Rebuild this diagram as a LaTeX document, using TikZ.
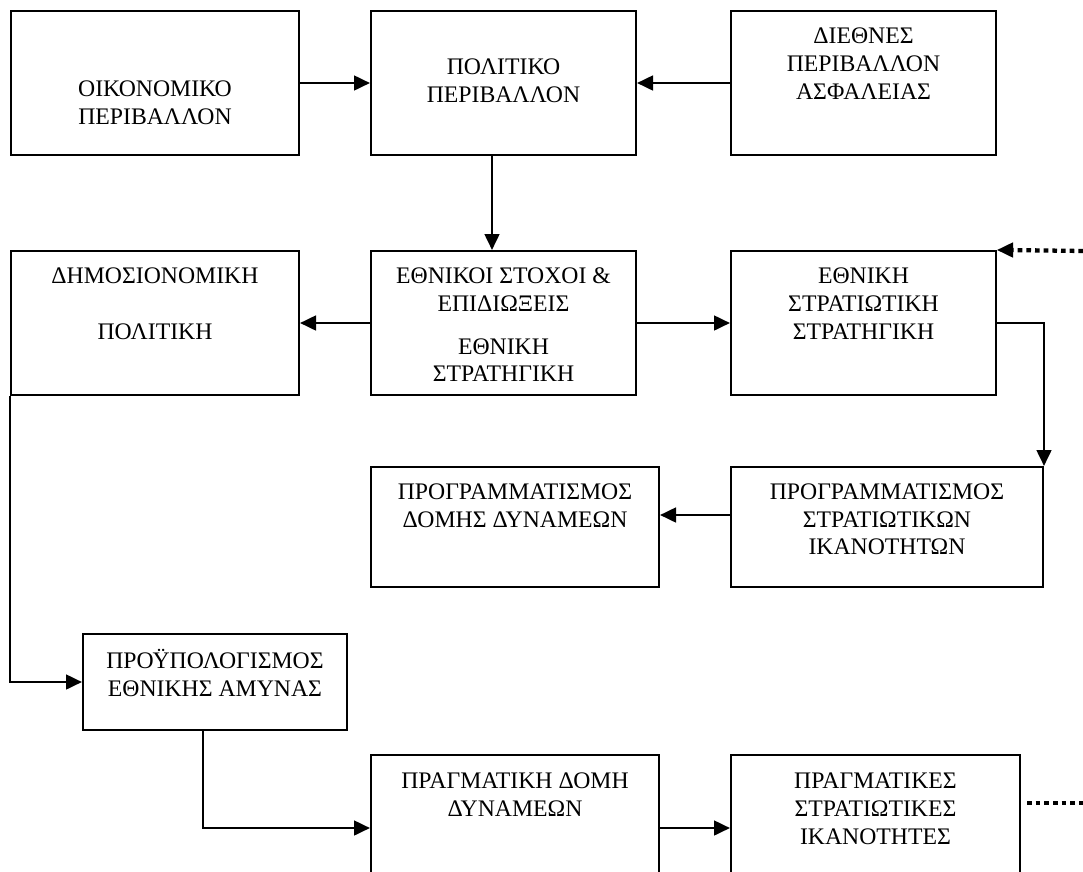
\documentclass[tikz,border=0pt]{standalone}
\usepackage{fontspec}
\setmainfont{Liberation Serif}
\usetikzlibrary{arrows.meta}
\usetikzlibrary{fit}
\newcommand{\firstline}{\rule{0pt}{16pt}}

\begin{document}
\begin{tikzpicture}[x=0.75pt,y=-0.75pt,
    arr/.style={line width=2pt,-{Triangle[length=12pt,width=11pt]}},
    dotline/.style={line width=3.2pt,dash pattern=on 3.5pt off 3pt}]
  \useasboundingbox (0,0) rectangle (1083,872);
  \clip (0,0) rectangle (1083,872);

  \begin{scope}[every node/.style={rectangle,draw,line width=1.5pt,inner sep=0pt}]
    \node (oik) [fit={(11,11) (299,155)}] {};
    \node (pol) [fit={(371,11) (636,155)}] {};
    \node (dieth) [fit={(731,11) (996,155)}] {};
    \node (dim) [fit={(11,251) (299,395)}] {};
    \node (ethn) [fit={(371,251) (636,395)}] {};
    \node (ess) [fit={(731,251) (996,395)}] {};
    \node (pdd) [fit={(371,467) (659,587)}] {};
    \node (psi) [fit={(731,467) (1043,587)}] {};
    \node (proy) [fit={(83,634) (347,730)}] {};
    \node (pdom) [fit={(371,755) (659,900)}] {};
    \node (pik) [fit={(731,755) (1020,900)}] {};
  \end{scope}

  \begin{scope}[every node/.style={anchor=north,inner sep=0pt,align=center,
      font=\fontsize{17.8}{20.8}\selectfont}]
    \node (toik) at (155,75.2) {\firstline ΟΙΚΟΝΟΜΙΚΟ\\ΠΕΡΙΒΑΛΛΟΝ};
    \node (tpol) at (503.5,52.7) {\firstline ΠΟΛΙΤΙΚΟ\\ΠΕΡΙΒΑΛΛΟΝ};
    \node (tdieth) at (863.5,22) {\firstline ΔΙΕΘΝΕΣ\\ΠΕΡΙΒΑΛΛΟΝ\\ΑΣΦΑΛΕΙΑΣ};
    \node (tdim) at (155,262) {\firstline ΔΗΜΟΣΙΟΝΟΜΙΚΗ\\[20.8pt]ΠΟΛΙΤΙΚΗ};
    \node (tethn) at (503.5,261.7) {\firstline ΕΘΝΙΚΟΙ ΣΤΟΧΟΙ \&\\ΕΠΙΔΙΩΞΕΙΣ\\[11.5pt]ΕΘΝΙΚΗ\\ΣΤΡΑΤΗΓΙΚΗ};
    \node (tess) at (863.5,262) {\firstline ΕΘΝΙΚΗ\\ΣΤΡΑΤΙΩΤΙΚΗ\\ΣΤΡΑΤΗΓΙΚΗ};
    \node (tpdd) at (515,477.7) {\firstline ΠΡΟΓΡΑΜΜΑΤΙΣΜΟΣ\\ΔΟΜΗΣ ΔΥΝΑΜΕΩΝ};
    \node (tpsi) at (887,477.7) {\firstline ΠΡΟΓΡΑΜΜΑΤΙΣΜΟΣ\\ΣΤΡΑΤΙΩΤΙΚΩΝ\\ΙΚΑΝΟΤΗΤΩΝ};
    \node (tproy) at (215,647) {\firstline ΠΡΟΫΠΟΛΟΓΙΣΜΟΣ\\ΕΘΝΙΚΗΣ ΑΜΥΝΑΣ};
    \node (tpdom) at (515,767) {\firstline ΠΡΑΓΜΑΤΙΚΗ ΔΟΜΗ\\ΔΥΝΑΜΕΩΝ};
    \node (tpik) at (875.5,767) {\firstline ΠΡΑΓΜΑΤΙΚΕΣ\\ΣΤΡΑΤΙΩΤΙΚΕΣ\\ΙΚΑΝΟΤΗΤΕΣ};
  \end{scope}

  \coordinate (down) at (492,0);
  \coordinate (prow) at (0,515);
  \coordinate (real) at (203,828);
  \coordinate (fbin) at (1083,251);
  \coordinate (fbout) at (1027,803);
  \coordinate (fbend) at (1083,803);

  \draw[arr] (oik.east) -- (pol.west);
  \draw[arr] (dieth.west) -- (pol.east);
  \draw[arr] (down |- pol.south) -- (down |- ethn.north);
  \draw[arr] (ethn.west) -- (dim.east);
  \draw[arr] (ethn.east) -- (ess.west);
  \draw[arr] (ess.east) -| (psi.north east);
  \draw[dotline] (fbin) -- ([xshift=8pt]ess.north east);
  \draw[arr] ([xshift=10pt]ess.north east) -- (ess.north east);
  \draw[arr] (prow -| psi.west) -- (prow -| pdd.east);
  \draw[arr] (dim.south west) |- (proy.west);
  \draw[arr] (real |- proy.south) -- (real) -- (real -| pdom.west);
  \draw[arr] (real -| pdom.east) -- (real -| pik.west);
  \draw[dotline] (fbout) -- (fbend);
\end{tikzpicture}
\end{document}
